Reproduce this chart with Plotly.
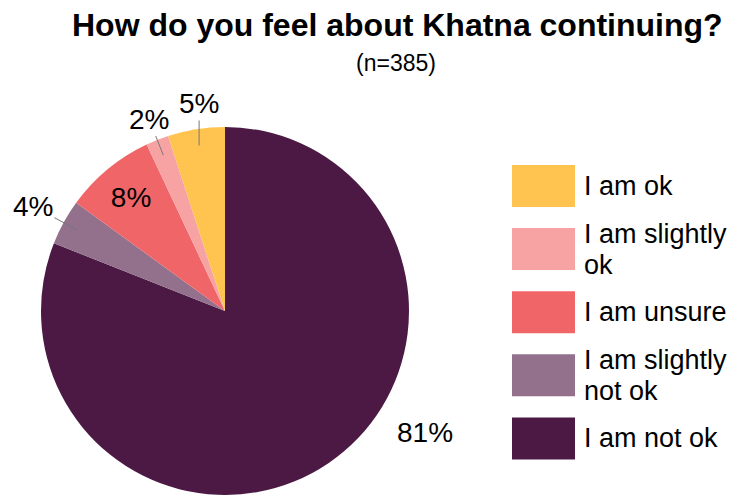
import math
import plotly.graph_objects as go

# pie order, clockwise from 12 o'clock
labels = ["I am not ok", "I am slightly not ok", "I am unsure", "I am slightly ok", "I am ok"]
values = [81, 4, 8, 2, 5]
colors = ["#4B1943", "#93718C", "#F06668", "#F7A3A3", "#FEC44F"]
text_pos = ["none", "none", "inside", "none", "none"]

# outside labels: offset of the label from its leader point (px), None = no leader
label_dx = [200, -47, None, -15, 0]
label_dy = [121, -25, None, -38, -44]

# legend order (top to bottom), one list per legend entry, one string per line
legend_lines = [["I am ok"], ["I am slightly", "ok"], ["I am unsure"],
                ["I am slightly", "not ok"], ["I am not ok"]]
legend_colors = ["#FEC44F", "#F7A3A3", "#F06668", "#93718C", "#4B1943"]

title = "How do you feel about Khatna continuing?"
subtitle = "(n=385)"

# the page body has an 8px margin, so the figure is made that much smaller
OFF = 8
W, H = 738 - OFF, 495 - OFF
FONT = "Liberation Sans, Arial, sans-serif"


def px(x):
    return (x - OFF) / W


def py(y):
    return 1 - (y - OFF) / H


R = 184  # pie radius in px
CX = 225
CY = H - R + OFF

fig = go.Figure()
fig.add_trace(go.Pie(
    labels=labels, values=values, marker=dict(colors=colors, line=dict(width=0)),
    sort=False, direction="clockwise", rotation=0,
    textinfo="percent", textposition=text_pos,
    textfont=dict(size=28, color="black", family=FONT),
    insidetextorientation="horizontal",
    domain=dict(x=[px(CX - R), px(CX + R)], y=[0, 2 * R / H]),
    showlegend=False, hoverinfo="label+percent",
))

# outside percentage labels with short grey leader lines
total = sum(values)
cum = 0
for v, dx, dy in zip(values, label_dx, label_dy):
    mid = (cum + v / 2) / total * 2 * math.pi
    cum += v
    if dx is None:
        continue
    pct = f"{round(v / total * 100)}%"
    if v != max(values):
        x0 = CX + 0.9 * R * math.sin(mid)
        y0 = CY - 0.9 * R * math.cos(mid)
        fig.add_annotation(x=px(x0), y=py(y0), xref="paper", yref="paper",
                           ax=dx, ay=dy, axref="pixel", ayref="pixel",
                           text=pct, showarrow=True, standoff=2,
                           arrowhead=0, arrowwidth=1, arrowcolor="#777777",
                           font=dict(size=28, color="black", family=FONT))
    else:
        fig.add_annotation(x=px(425), y=py(432), xref="paper", yref="paper",
                           xanchor="center", yanchor="middle",
                           text=pct, showarrow=False,
                           font=dict(size=28, color="black", family=FONT))

# custom legend with big swatches
for i, (lines, col) in enumerate(zip(legend_lines, legend_colors)):
    yc = 186 + i * 63.1
    fig.add_shape(type="rect", xref="paper", yref="paper",
                  x0=px(512), x1=px(575), y0=py(yc - 21), y1=py(yc + 21),
                  fillcolor=col, line=dict(width=0))
    n = len(lines)
    for j, line in enumerate(lines):
        ly = yc + (j - (n - 1) / 2) * 31
        fig.add_annotation(x=px(582), y=py(ly), xref="paper", yref="paper",
                           xanchor="left", yanchor="middle",
                           text=line, showarrow=False,
                           font=dict(size=27, color="black", family=FONT))

fig.add_annotation(x=px(397), y=py(25), xref="paper", yref="paper",
                   xanchor="center", yanchor="middle",
                   text=f"<b>{title}</b>", showarrow=False,
                   font=dict(size=32, color="black", family=FONT))
fig.add_annotation(x=px(396), y=py(63), xref="paper", yref="paper",
                   xanchor="center", yanchor="middle",
                   text=subtitle, showarrow=False,
                   font=dict(size=23, color="black", family=FONT))

fig.update_layout(
    width=W, height=H,
    margin=dict(l=0, r=0, t=0, b=0),
    paper_bgcolor="white", plot_bgcolor="white",
    font=dict(family=FONT),
)

fig.write_html("out.html")
